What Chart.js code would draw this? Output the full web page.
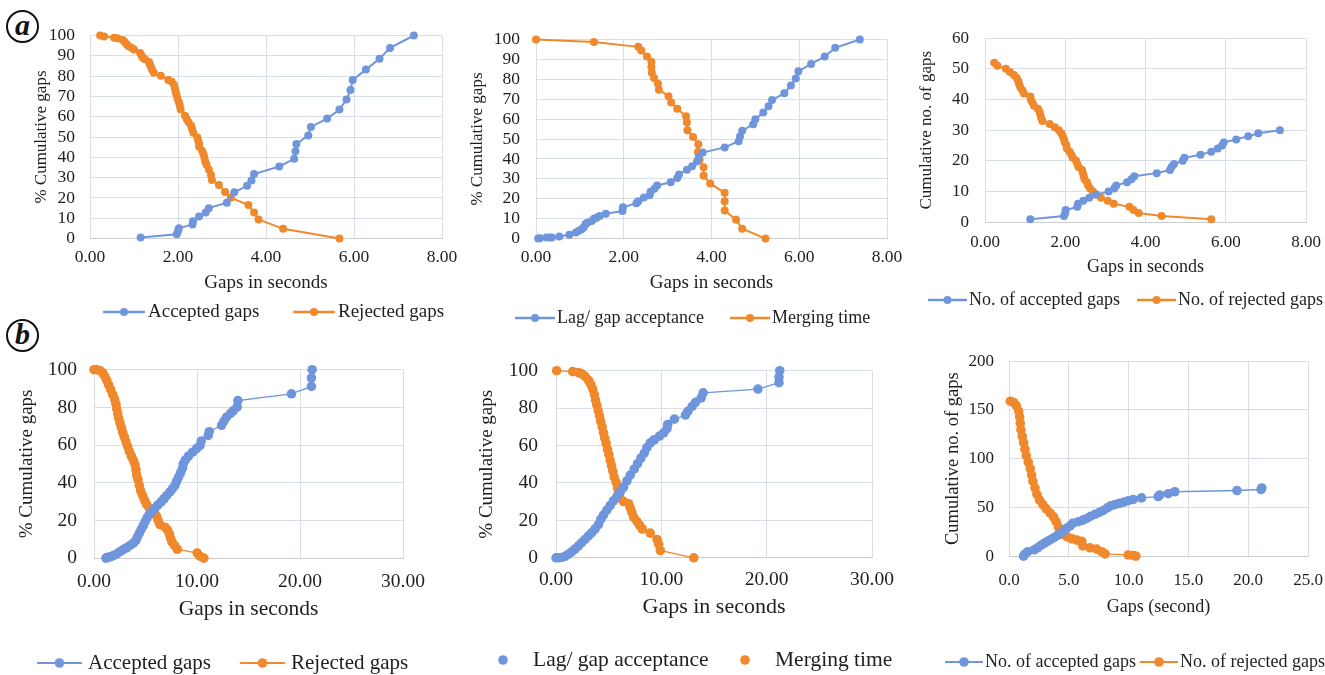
<!DOCTYPE html>
<html>
<head>
<meta charset="utf-8">
<script src="https://cdn.jsdelivr.net/npm/chart.js@4.4.1/dist/chart.umd.min.js"></script>
<style>
  body { margin: 0; background: #fff; }
  #fig { position: relative; width: 1325px; height: 675px; overflow: hidden; background: #fff; }
  #fig canvas { position: absolute; }
  .tag {
    position: absolute; width: 29px; height: 29px; border: 2px solid #111; border-radius: 50%;
    font: italic bold 30px "Liberation Serif", serif; color: #111; text-align: center; line-height: 25px;
  }
</style>
</head>
<body>
<div id="fig">
  <div class="tag" style="left:6px;top:10px">a</div>
  <div class="tag" style="left:6px;top:319px">b</div>
</div>
<script>
// ---- data ----
// (a) left: % cumulative
const a1AccX = [1.15,1.97,2.00,2.02,2.33,2.34,2.48,2.63,2.70,3.11,3.28,3.57,3.67,3.73,4.30,4.64,4.67,4.69,4.96,5.02,5.39,5.67,5.83,5.92,5.97,6.27,6.58,6.82,7.36];
const a1AccY = [0.6,2.1,3.8,5.1,7.0,8.6,10.9,12.9,15.0,17.7,22.8,26.0,28.6,31.8,35.5,39.3,43.0,46.6,50.8,55.0,59.1,63.6,68.5,73.2,78.1,83.2,88.5,93.9,100];
const a1RejX = [0.23,0.32,0.55,0.62,0.74,0.79,0.83,0.88,0.95,1.00,1.14,1.17,1.20,1.25,1.34,1.36,1.38,1.41,1.45,1.61,1.78,1.86,1.91,1.93,1.95,1.97,1.99,2.02,2.04,2.06,2.16,2.20,2.24,2.30,2.32,2.35,2.44,2.46,2.48,2.48,2.55,2.58,2.60,2.62,2.65,2.70,2.75,2.77,2.93,3.07,3.20,3.60,3.73,3.83,4.39,5.67];
const a1RejY = [100,99.5,98.9,98.7,97.8,96.8,95.7,94.7,93.8,93.1,91.4,90.1,89.1,88.3,86.9,85.9,84.7,83.1,81.6,80.2,78.1,77.2,75.6,73.8,72.0,70.4,68.8,67.1,65.5,63.6,60.5,58.9,57.3,55.6,54.0,52.1,49.8,48.2,46.6,45.2,43.1,41.5,39.8,37.9,36.3,34.0,31.3,28.8,26.4,23.0,20.1,16.5,12.8,9.4,4.8,0];

// (a) middle: lag / merging
const a2LagX = [0.05,0.09,0.24,0.32,0.36,0.53,0.76,0.91,0.98,1.04,1.09,1.13,1.17,1.27,1.32,1.38,1.45,1.59,1.97,1.98,2.29,2.33,2.46,2.59,2.61,2.70,2.76,3.07,3.22,3.26,3.44,3.56,3.67,3.71,3.80,4.30,4.62,4.65,4.70,4.95,5.00,5.18,5.30,5.38,5.66,5.81,5.92,5.98,6.27,6.58,6.82,7.38];
const a2LagY = [0,0.2,0.5,0.6,0.6,1.1,1.9,3.1,3.9,4.7,5.7,7.3,7.9,8.9,10.0,10.5,11.3,12.5,13.8,15.7,17.8,18.8,20.6,21.8,23.5,25.1,26.7,28.3,30.4,32.2,34.6,36.4,38.7,40.8,43.2,45.8,48.9,51.3,54.2,57.4,60.0,63.3,66.5,69.6,73.0,76.9,80.4,84.0,87.7,91.4,95.8,100];
const a2MergeX = [0,1.32,2.33,2.40,2.53,2.63,2.63,2.64,2.69,2.78,2.80,3.02,3.08,3.22,3.42,3.44,3.45,3.58,3.70,3.69,3.73,3.82,3.82,3.97,4.30,4.30,4.30,4.56,4.70,5.23];
const a2MergeY = [100,98.7,96.3,94.5,91.4,88.8,86.2,83.3,80.7,77.8,74.8,71.5,68.4,65.2,61.5,58.3,54.4,51.0,47.4,43.5,39.5,35.8,31.6,27.7,23.0,18.8,14.1,9.5,5.0,0];

// (a) right: counts
const a3AccX = [1.13,1.97,2.00,2.01,2.30,2.32,2.45,2.60,2.77,3.08,3.22,3.27,3.54,3.65,3.72,4.28,4.61,4.65,4.71,4.93,4.97,5.37,5.64,5.80,5.91,5.95,6.26,6.56,6.81,7.35];
const a3AccY = [1,2,3,4,5,6,7,8,9,10,11,12,13,14,15,16,17,18,19,20,21,22,23,24,25,26,27,28,29,30];
const a3RejX = [0.23,0.31,0.52,0.62,0.72,0.79,0.83,0.85,0.88,0.93,0.97,1.13,1.14,1.18,1.22,1.32,1.36,1.38,1.40,1.43,1.61,1.74,1.84,1.90,1.94,1.97,1.99,2.03,2.04,2.11,2.15,2.19,2.27,2.30,2.33,2.42,2.44,2.46,2.48,2.54,2.57,2.62,2.69,2.75,2.89,3.06,3.21,3.60,3.70,3.83,4.40,5.64];
const a3RejY = [52,51,50,49,48,47,46,45,44,43,42,41,40,39,38,37,36,35,34,33,32,31,30,29,28,27,26,25,24,23,22,21,20,19,18,17,16,15,14,13,12,11,10,9,8,7,6,5,4,3,2,1];

// (b) left: % cumulative
const b1AccX = [1.16,1.29,1.55,1.88,2.2,2.52,2.85,3.17,3.49,3.82,4.07,4.2,4.4,4.59,4.79,4.98,5.17,5.37,5.63,5.92,6.21,6.53,6.79,7.05,7.37,7.63,7.86,8.02,8.21,8.41,8.6,8.67,8.86,9.18,9.57,9.96,10.28,10.41,11.09,11.19,12.39,12.61,12.87,13.26,13.51,13.9,13.97,19.17,21.11,21.11,21.18];
const b1AccY = [0,0.3,0.7,1.3,2.2,3.4,4.5,5.5,6.7,7.9,9.4,11.1,13.1,15.3,17.3,19.5,21.5,23.2,24.8,26.5,28.2,29.9,31.5,33.2,35.2,36.9,38.6,40.8,43.0,45.3,47.8,50.0,52.0,54.2,56.2,58.1,59.7,62.1,65.1,67.1,70.5,72.7,74.8,76.8,78.2,80.2,83.6,87.2,91.1,95.6,100];
const b1RejX = [0,0.26,0.58,0.84,1.03,1.23,1.42,1.62,1.81,2.0,2.13,2.2,2.3,2.39,2.52,2.65,2.78,2.94,3.1,3.27,3.43,3.62,3.82,3.98,4.07,4.14,4.27,4.4,4.53,4.72,4.91,5.11,5.37,5.63,5.92,6.08,6.24,6.4,6.89,7.15,7.31,7.44,7.57,7.82,8.08,10.02,10.28,10.67];
const b1RejY = [100,100,99.5,98.3,96.6,94.5,91.9,89.4,86.9,84.4,81.9,79.4,76.8,74.3,71.8,69.3,66.8,64.3,61.7,59.2,56.7,54.2,52.0,49.7,47.0,44.1,41.6,38.6,35.7,33.2,30.7,28.5,26.5,24.8,23.5,22.1,19.8,17.8,16.4,14.8,12.8,10.6,8.6,6.7,4.7,2.7,1.0,0];

// (b) middle: lag / merging
const b2LagX = [0,0.22,0.54,0.86,1.17,1.49,1.81,2.13,2.44,2.76,3.08,3.4,3.71,4.03,4.25,4.5,4.83,5.14,5.46,5.78,6.1,6.41,6.73,7.05,7.43,7.75,8.06,8.38,8.63,8.95,9.33,9.84,10.22,10.54,10.6,11.24,12.29,12.51,12.92,13.24,13.78,13.97,19.17,21.17,21.17,21.24];
const b2LagY = [0,0,0.2,0.8,1.9,3.2,4.7,6.4,8.1,9.8,11.7,13.5,15.4,17.8,20.5,22.8,25.5,27.9,30.5,32.7,35.2,37.7,41.1,44.2,47.5,50.4,53.3,56.0,58.9,61.4,63.1,65.1,66.8,69.0,71.2,74.1,76.3,78.3,80.9,83.1,85.4,88.2,90.2,93.6,96.6,100];
const b2MergeX = [0.06,1.59,2.13,2.44,2.76,3.08,3.3,3.49,3.65,3.75,3.87,4.0,4.13,4.25,4.38,4.51,4.63,4.76,4.89,5.02,5.14,5.27,5.4,5.52,5.71,5.84,5.94,6.1,6.41,6.89,7.05,7.21,7.37,7.68,7.94,8.19,8.95,9.59,9.75,9.9,13.08];
const b2MergeY = [100,99.5,99.0,98.3,97.0,94.9,92.7,90.2,87.1,84.3,81.7,78.7,75.8,72.9,69.9,66.8,63.9,61.1,58.0,55.2,52.1,49.2,46.2,43.1,40.3,37.4,34.7,31.8,30.1,28.9,26.7,24.2,21.7,19.5,17.4,15.4,13.2,9.8,7.3,3.9,0];

// (b) right: counts
const b3AccX = [1.22,1.31,1.56,2.11,2.39,2.67,2.94,3.22,3.5,3.78,4.06,4.33,4.56,4.83,5.11,5.33,5.81,6.17,6.5,6.83,7.19,7.56,7.89,8.22,8.5,8.86,9.22,9.61,9.97,10.39,11.08,12.47,12.61,13.31,13.86,19.06,21.08,21.14];
const b3AccY = [0,2,4.6,6.6,8.6,11.2,13.2,15.2,17.2,19.2,21.5,23.8,26.1,28.8,31.1,33.7,35.4,37.0,38.7,41.0,43.0,45.0,46.9,49.6,51.6,52.9,54.2,55.5,56.9,58.2,59.8,61.2,62.8,64.1,66.1,67.4,68.4,70];
const b3RejX = [0.11,0.39,0.61,0.81,0.89,0.94,1.0,1.11,1.22,1.33,1.44,1.61,1.78,1.89,2.0,2.17,2.33,2.56,2.83,3.11,3.44,3.72,3.94,4.14,4.33,4.56,4.89,5.25,5.67,6.08,6.17,6.78,7.33,7.75,8.03,9.97,10.39,10.61];
const b3RejY = [159,157.7,154.4,148.8,142.8,136.2,129.6,123.0,116.4,109.8,103.1,96.5,89.9,83.3,76.7,70.1,63.5,57.5,52.9,48.6,44.3,40.3,35.4,29.8,25.5,22.1,19.8,17.9,16.5,15.2,10.6,8.6,7.3,4.6,2.3,1.3,0.7,0];

// ---- styling / layout ----
const FONT = '"Liberation Serif", "Times New Roman", serif';
const BLUE = '#6f96dc';
const ORANGE = '#f0882c';
const GRID = '#d9dfea';
const AXIS = '#cccccc';
const INK = '#1e1e1e';

// iconL / textL / icon2L: where the legend symbols and first label start on the page
const panels = [
  { series: [[a1AccX, a1AccY, 'Accepted gaps'], [a1RejX, a1RejY, 'Rejected gaps']],
    xMax: 8, xStep: 2, xDec: 2, yMax: 100, yStep: 10,
    xTitle: 'Gaps in seconds', yTitle: '% Cumulative gaps',
    plot: [90, 30, 442, 239], yTickR: 75, yTitleX: 42, xTickY: 258, xTitleY: 283,
    tickFs: 17.5, xTitleFs: 19, yTitleFs: 17, legFs: 19,
    legY: 312, iconL: 103, iconW: 42, textL: 148, icon2L: 293,
    lineW: 2, r: 4, iconLine: true },
  { series: [[a2LagX, a2LagY, 'Lag/ gap acceptance'], [a2MergeX, a2MergeY, 'Merging time']],
    xMax: 8, xStep: 2, xDec: 2, yMax: 100, yStep: 10,
    xTitle: 'Gaps in seconds', yTitle: '% Cumulative gaps',
    plot: [536, 33, 887, 239], yTickR: 520, yTitleX: 478, xTickY: 258, xTitleY: 283,
    tickFs: 17.5, xTitleFs: 19, yTitleFs: 17, legFs: 18,
    legY: 318, iconL: 515, iconW: 40, textL: 557, icon2L: 730,
    lineW: 2, r: 4, iconLine: true },
  { series: [[a3AccX, a3AccY, 'No. of accepted gaps'], [a3RejX, a3RejY, 'No. of rejected gaps']],
    xMax: 8, xStep: 2, xDec: 2, yMax: 60, yStep: 10,
    xTitle: 'Gaps in seconds', yTitle: 'Cumulative no. of gaps',
    plot: [985, 32, 1306, 223], yTickR: 969, yTitleX: 927, xTickY: 243, xTitleY: 268,
    tickFs: 17, xTitleFs: 18, yTitleFs: 17, legFs: 18,
    legY: 300, iconL: 928, iconW: 39, textL: 969, icon2L: 1137,
    lineW: 2, r: 4, iconLine: true },
  { series: [[b1AccX, b1AccY, 'Accepted gaps'], [b1RejX, b1RejY, 'Rejected gaps']],
    xMax: 30, xStep: 10, xDec: 2, yMax: 100, yStep: 20,
    xTitle: 'Gaps in seconds', yTitle: '% Cumulative gaps',
    plot: [94, 361, 403, 559], yTickR: 77, yTitleX: 27, xTickY: 583, xTitleY: 610,
    tickFs: 19.5, xTitleFs: 21.5, yTitleFs: 19, legFs: 21,
    legY: 663, iconL: 37, iconW: 45, textL: 88, icon2L: 240,
    lineW: 1.3, r: 4.8, iconLine: true },
  { series: [[b2LagX, b2LagY, 'Lag/ gap acceptance'], [b2MergeX, b2MergeY, 'Merging time']],
    xMax: 30, xStep: 10, xDec: 2, yMax: 100, yStep: 20,
    xTitle: 'Gaps in seconds', yTitle: '% Cumulative gaps',
    plot: [556, 361, 872, 558], yTickR: 538, yTitleX: 487, xTickY: 580, xTitleY: 607,
    tickFs: 19.5, xTitleFs: 22, yTitleFs: 19, legFs: 21.5,
    legY: 660, iconL: 503, iconW: 0, textL: 533, icon2L: 745,
    lineW: 1.3, r: 4.8, iconLine: false },
  { series: [[b3AccX, b3AccY, 'No. of accepted gaps'], [b3RejX, b3RejY, 'No. of rejected gaps']],
    xMax: 25, xStep: 5, xDec: 1, yMax: 200, yStep: 50,
    xTitle: 'Gaps (second)', yTitle: 'Cumulative no. of gaps',
    plot: [1009, 356, 1308, 557], yTickR: 994, yTitleX: 953, xTickY: 581, xTitleY: 608,
    tickFs: 17, xTitleFs: 18, yTitleFs: 18.5, legFs: 18,
    legY: 662, iconL: 945, iconW: 38, textL: 985, icon2L: 1140,
    lineW: 1.3, r: 4.8, iconLine: true }
];

function pts(xs, ys) {
  return xs.map((x, i) => ({ x: x, y: ys[i] }));
}

const measureCtx = document.createElement('canvas').getContext('2d');

// legend symbol: a short line with a dot; the image is centred on the legend box,
// so the line is shifted inside it to start at the box's left edge
function legendIcon(color, boxW, w, r, withLine, lw) {
  const half = Math.max(boxW / 2, w - boxW / 2) + r + 2;
  const c = document.createElement('canvas');
  c.width = Math.ceil(2 * half);
  c.height = Math.ceil(2 * r + 4);
  const g = c.getContext('2d');
  const x0 = c.width / 2 - boxW / 2;
  const cy = c.height / 2;
  if (withLine) {
    g.strokeStyle = color;
    g.lineWidth = lw;
    g.beginPath(); g.moveTo(x0, cy); g.lineTo(x0 + w, cy); g.stroke();
  }
  g.fillStyle = color;
  g.beginPath(); g.arc(x0 + w / 2, cy, r, 0, Math.PI * 2); g.fill();
  return c;
}

function build(P) {
  const YW = 140, PT = 20, PR = 40, PB = 30, LH = 30;
  const [L, T, R, B] = P.plot;
  const cx = L - YW, cy = T - PT;
  const xTitleLh = P.xTitleFs * 1.2, yTitleLh = P.yTitleFs * 1.2, tickLh = P.tickFs * 1.2;
  const xH = P.xTitleY + xTitleLh / 2 + 2 - B;
  const cw = R - cx + PR;
  const ch = B - cy + xH + LH + PB;

  const cv = document.createElement('canvas');
  cv.width = cw; cv.height = ch;
  cv.style.left = cx + 'px'; cv.style.top = cy + 'px';
  document.getElementById('fig').appendChild(cv);

  const colors = [BLUE, ORANGE];
  const boxW = P.textL - P.iconL - P.legFs / 2;
  const icons = colors.map(c => legendIcon(c, boxW, P.iconW, P.r, P.iconLine, P.lineW + 0.5));
  measureCtx.font = P.legFs + 'px ' + FONT;
  const gap = P.icon2L - P.textL - measureCtx.measureText(P.series[0][2]).width;

  // put the legend where the original has it
  const placeLegend = {
    id: 'placeLegend',
    afterLayout(chart) {
      const l = chart.legend;
      l.left = P.iconL - cx - gap;
      l.right = l.left + 3000;
      l.top = P.legY - cy - gap - P.legFs / 2;
      l.bottom = l.top + Math.abs(2 * gap) + P.legFs + 40;
    }
  };

  new Chart(cv, {
    type: 'scatter',
    data: {
      datasets: P.series.map((s, i) => ({
        label: s[2],
        data: pts(s[0], s[1]),
        showLine: true,
        borderColor: colors[i],
        backgroundColor: colors[i],
        pointBackgroundColor: colors[i],
        pointBorderWidth: 0,
        pointRadius: P.r,
        pointHoverRadius: P.r,
        borderWidth: P.lineW,
        tension: 0,
        clip: false
      }))
    },
    options: {
      responsive: false,
      animation: false,
      layout: { padding: { left: 0, top: PT, right: PR, bottom: PB } },
      plugins: {
        tooltip: { enabled: false },
        legend: {
          position: 'bottom',
          align: 'start',
          maxHeight: LH,
          labels: {
            usePointStyle: true,
            pointStyleWidth: boxW,
            padding: gap,
            color: INK,
            font: { family: FONT, size: P.legFs },
            generateLabels: chart => Chart.defaults.plugins.legend.labels.generateLabels(chart)
              .map(it => Object.assign(it, { pointStyle: icons[it.datasetIndex] }))
          }
        }
      },
      scales: {
        x: {
          type: 'linear', min: 0, max: P.xMax,
          ticks: {
            stepSize: P.xStep, autoSkip: false, maxRotation: 0,
            padding: P.xTickY - B - tickLh / 2,
            color: INK, font: { family: FONT, size: P.tickFs },
            callback: v => Number(v).toFixed(P.xDec)
          },
          grid: { color: GRID, drawTicks: false },
          border: { color: AXIS },
          title: {
            display: true, text: P.xTitle, color: INK,
            font: { family: FONT, size: P.xTitleFs },
            padding: { top: 0, bottom: 2 }
          },
          afterFit: s => { s.height = xH; }
        },
        y: {
          type: 'linear', min: 0, max: P.yMax,
          ticks: {
            stepSize: P.yStep, autoSkip: false,
            padding: L - P.yTickR,
            color: INK, font: { family: FONT, size: P.tickFs }
          },
          grid: { color: GRID, drawTicks: false },
          border: { display: false },
          title: {
            display: true, text: P.yTitle, color: INK,
            font: { family: FONT, size: P.yTitleFs },
            padding: { top: P.yTitleX - cx - yTitleLh / 2, bottom: 0 }
          },
          afterFit: s => { s.width = YW; }
        }
      }
    },
    plugins: [placeLegend]
  });
}

panels.forEach(build);
</script>
</body>
</html>
